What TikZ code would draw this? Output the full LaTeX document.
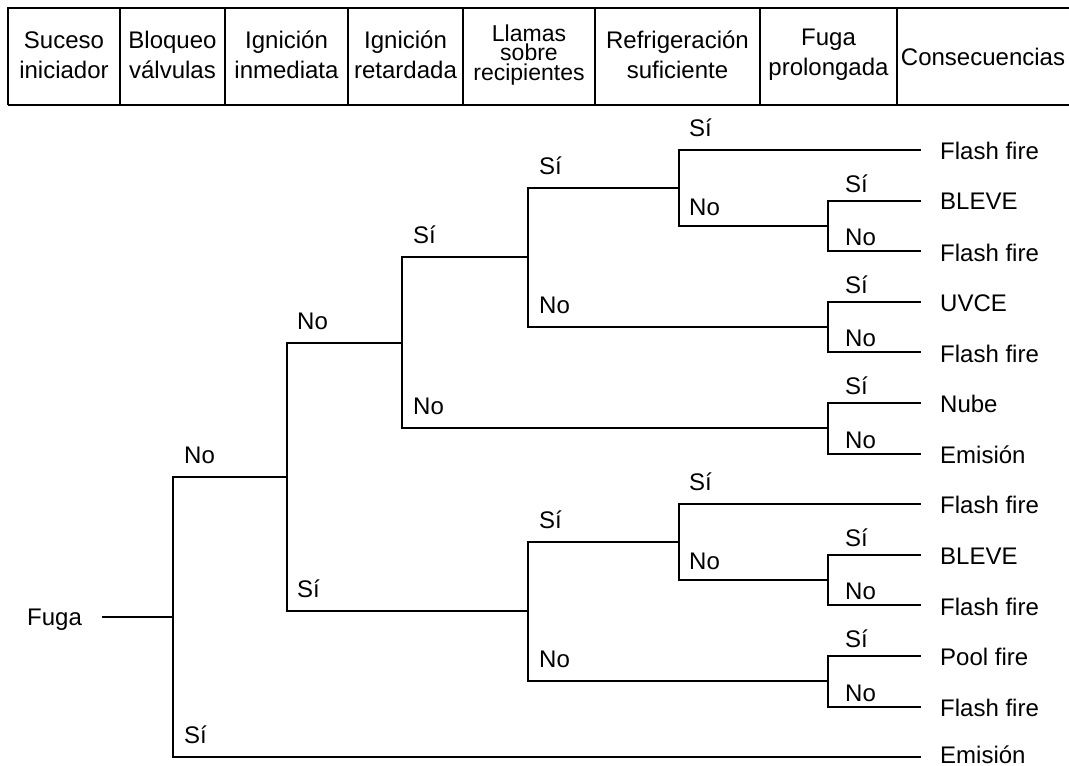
\documentclass[tikz,border=0pt]{standalone}
\usepackage{fontspec}
\setmainfont{Liberation Sans}
\begin{document}
\begin{tikzpicture}[x=1pt,y=-1pt,
  every node/.style={font=\fontsize{24}{30}\selectfont, inner sep=0pt},
  rule/.style={line width=2pt},
  branch/.style={line width=2pt, line join=miter},
  head/.style={align=center, anchor=center},
  lbl/.style={anchor=base west},
  leaf/.style={anchor=base west}]
\useasboundingbox (0,0) rectangle (1069,766);

% ---------- header table ----------
\draw[rule] (8,105) -- (8,8) -- (1069,8);
\draw[rule] (8,105) -- (1069,105);
\foreach \xx in {120,225,348,463,595,760,897}
  \draw[rule] (\xx,8) -- (\xx,105);

\node[head] (h1) at (64,55)    {Suceso\\iniciador};
\node[head] (h2) at (172.5,55) {Bloqueo\\válvulas};
\node[head] (h3) at (286.5,55) {Ignición\\inmediata};
\node[head] (h4) at (405.5,55) {Ignición\\retardada};
\node[head, font=\fontsize{23}{19.5}\selectfont] (h5) at (529,55) {Llamas\\sobre\\recipientes};
\node[head] (h6) at (677.5,55) {Refrigeración\\suficiente};
\node[head] (h7) at (828.5,55) {Fuga\\prolongada};
\node[head] (h8) at (983,57)   {Consecuencias};

% ---------- tree junctions ----------
\coordinate (root) at (102,617);
\coordinate (A)  at (173,617);
\coordinate (B)  at (287,477);
\coordinate (C)  at (402,343);
\coordinate (D)  at (528,257);
\coordinate (E)  at (679,188);
\coordinate (F1) at (828,226);
\coordinate (G)  at (828,327);
\coordinate (H)  at (828,428);
\coordinate (D2) at (528,611);
\coordinate (E2) at (679,542);
\coordinate (F2) at (828,580);
\coordinate (G2) at (828,681);

% branch ends
\foreach \i/\yy in {1/150,2/201,3/251,4/302,5/352,6/403,7/454,
                    8/504,9/555,10/605,11/656,12/707,13/757}
  \coordinate (e\i) at (921,\yy);

% ---------- initiating event ----------
\node[anchor=base west] (fuga) at (27,625) {Fuga};
\draw[branch] (root) -- (A);

% ---------- branches ----------
\draw[branch] (A) |- (B);
\draw[branch] (A) |- (e13);
\draw[branch] (B) |- (C);
\draw[branch] (B) |- (D2);
\draw[branch] (C) |- (D);
\draw[branch] (C) |- (H);
\draw[branch] (D) |- (E);
\draw[branch] (D) |- (G);
\draw[branch] (E) |- (e1);
\draw[branch] (E) |- (F1);
\draw[branch] (F1) |- (e2);
\draw[branch] (F1) |- (e3);
\draw[branch] (G) |- (e4);
\draw[branch] (G) |- (e5);
\draw[branch] (H) |- (e6);
\draw[branch] (H) |- (e7);
\draw[branch] (D2) |- (E2);
\draw[branch] (D2) |- (G2);
\draw[branch] (E2) |- (e8);
\draw[branch] (E2) |- (F2);
\draw[branch] (F2) |- (e9);
\draw[branch] (F2) |- (e10);
\draw[branch] (G2) |- (e11);
\draw[branch] (G2) |- (e12);

% ---------- branch labels ----------
\node[lbl] (aNo) at (184,463) {No};
\node[lbl] (aSi) at (184,743) {Sí};
\node[lbl] (bNo) at (297,329) {No};
\node[lbl] (bSi) at (297,597) {Sí};
\node[lbl] (cSi) at (413,243) {Sí};
\node[lbl] (cNo) at (413,414) {No};
\node[lbl] (dSi) at (539,174) {Sí};
\node[lbl] (dNo) at (539,313) {No};
\node[lbl] (eSi) at (689,136) {Sí};
\node[lbl] (eNo) at (689,215) {No};
\node[lbl] (d2Si) at (539,528) {Sí};
\node[lbl] (d2No) at (539,667) {No};
\node[lbl] (e2Si) at (689,490) {Sí};
\node[lbl] (e2No) at (689,569) {No};
\node[lbl] (f1Si) at (845,192) {Sí};
\node[lbl] (f1No) at (845,245) {No};
\node[lbl] (gSi)  at (845,293) {Sí};
\node[lbl] (gNo)  at (845,346) {No};
\node[lbl] (hSi)  at (845,394) {Sí};
\node[lbl] (hNo)  at (845,448) {No};
\node[lbl] (f2Si) at (845,546) {Sí};
\node[lbl] (f2No) at (845,599) {No};
\node[lbl] (g2Si) at (845,647) {Sí};
\node[lbl] (g2No) at (845,701) {No};

% ---------- consequences ----------
\node[leaf] (c1)  at (940,159) {Flash fire};
\node[leaf] (c2)  at (940,209) {BLEVE};
\node[leaf] (c3)  at (940,261) {Flash fire};
\node[leaf] (c4)  at (940,311) {UVCE};
\node[leaf] (c5)  at (940,362) {Flash fire};
\node[leaf] (c6)  at (940,412) {Nube};
\node[leaf] (c7)  at (940,463) {Emisión};
\node[leaf] (c8)  at (940,513) {Flash fire};
\node[leaf] (c9)  at (940,564) {BLEVE};
\node[leaf] (c10) at (940,615) {Flash fire};
\node[leaf] (c11) at (940,665) {Pool fire};
\node[leaf] (c12) at (940,716) {Flash fire};
\node[leaf] (c13) at (940,763) {Emisión};
\end{tikzpicture}
\end{document}
